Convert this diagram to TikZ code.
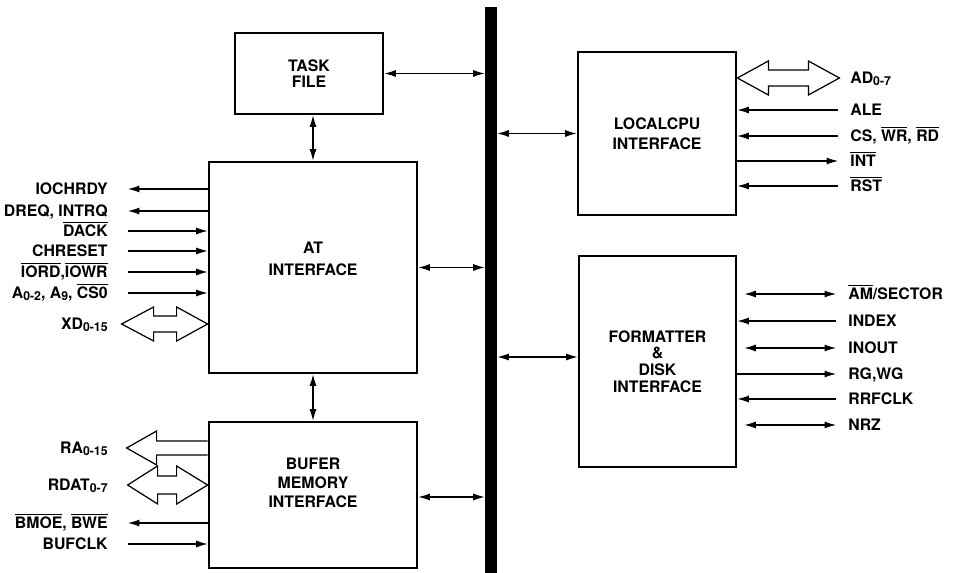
\documentclass[tikz,border=0pt]{standalone}
\usepackage{fontspec}
\setmainfont{TeX Gyre Heros}
\usetikzlibrary{arrows.meta, positioning, calc}
\newcommand{\ovl}[1]{$\overline{\mbox{#1}}$}
\newcommand{\lsub}[1]{\raisebox{-1pt}{\fontsize{7}{7}\selectfont #1}}

\begin{document}
\begin{tikzpicture}[
        x=0.02cm, y=-0.02cm,
        font=\fontsize{9}{9.5}\selectfont\bfseries,
        >={Latex[length=6.5pt,width=4pt]},
        block/.style={rectangle, draw=black, line width=1.6pt, fill=white, align=center, inner sep=0pt},
        bus/.style={rectangle, fill=black, inner sep=0pt, minimum width=0.24cm, minimum height=11.32cm},
        link/.style={<->, line width=0.6pt},
        wire/.style={line width=0.6pt},
        bi-wire/.style={<->, line width=0.6pt, shorten >=4pt},
        wide-arrow/.style={draw=black, fill=white, line width=0.7pt, line join=miter},
        sig-left/.style={anchor=east, inner xsep=0.3cm, inner ysep=0pt, text height=6.5pt, text depth=0pt},
        sig-right/.style={anchor=west, inner xsep=0.24cm, inner ysep=0pt, text height=6.5pt, text depth=0pt},
    ]
        \useasboundingbox (0,0) rectangle (953,573);

        % Blocks
        \node[block, minimum width=2.96cm, minimum height=1.62cm] (task) at (309, 73.5) {TASK\\FILE};
        \node[block, minimum width=4.16cm, minimum height=4.22cm] (at) at (313, 267.5) {AT\\[3pt]INTERFACE\\[0pt]};
        \node[block, minimum width=4.16cm, minimum height=2.92cm] (bufer) at (313, 495) {BUFER\\[1.3pt]MEMORY\\[1.3pt]INTERFACE\\[4pt]};
        \node[block, minimum width=3.16cm, minimum height=3.26cm] (cpu) at (657, 133.5) {LOCALCPU\\[2pt]INTERFACE};
        \node[block, minimum width=3.14cm, minimum height=4.22cm] (fmt) at (657.5, 361.5) {FORMATTER\\\&\\DISK\\INTERFACE};

        % Internal bus
        \node[bus] (bus) at (491, 290) {};

        % Block to bus connections
        \draw[link] (task.east) -- (task.east -| bus.west);
        \draw[link] (at.east) -- (at.east -| bus.west);
        \draw[link] ([yshift=-0.04cm]bufer.east) -- ([yshift=-0.04cm]bufer.east -| bus.west);
        \draw[link] (cpu.west) -- (cpu.west -| bus.east);
        \draw[link] ([yshift=0.09cm]fmt.west) -- ([yshift=0.09cm]fmt.west -| bus.east);
        \draw[link] (at.north) -- (at.north |- task.south);
        \draw[link] (at.south) -- (at.south |- bufer.north);

        % AT interface signals
        \foreach \y/\t [count=\i] in {189/IOCHRDY, 211/{DREQ, INTRQ}, 231/\ovl{DACK}, 251/CHRESET,
                272/{\ovl{IORD},\ovl{IOWR}}, 293/{A\lsub{0-2}, A\lsub{9}, \ovl{CS0}}, 324/XD\lsub{0-15}} {
            \node[sig-left] (atsig\i) at (123, \y) {\t};
        }
        \foreach \i in {1,2}
            \draw[wire, <-] ([xshift=0.1cm]atsig\i.east) -- (atsig\i.east -| at.west);
        \foreach \i in {3,...,6}
            \draw[wire, ->] ([xshift=0.1cm]atsig\i.east) -- (atsig\i.east -| at.west);
        \draw[wide-arrow] (at.west |- atsig7) -- ++(-31,-17) -- ++(0,9) -- ++(-23,0) -- ++(0,-9) -- ++(-32,17)
            -- ++(32,17) -- ++(0,-9) -- ++(23,0) -- ++(0,9) -- cycle;

        % Buffer memory signals
        \foreach \y/\t [count=\i] in {448/RA\lsub{0-15}, 485/RDAT\lsub{0-7}, 523/{\ovl{BMOE}, \ovl{BWE}}, 544/BUFCLK} {
            \node[sig-left] (bufsig\i) at (123, \y) {\t};
        }
        \draw[wide-arrow] (bufer.west |- bufsig1) ++(0,-7) -- ++(-51,0) -- ++(0,-10) -- ++(-30,17)
            -- ++(30,17) -- ++(0,-10) -- ++(51,0);
        \draw[wide-arrow] (bufer.west |- bufsig2) -- ++(-31,-19) -- ++(0,10) -- ++(-19,0) -- ++(0,-10) -- ++(-30,19)
            -- ++(30,19) -- ++(0,-10) -- ++(19,0) -- ++(0,10) -- cycle;
        \draw[wire, <-] ([xshift=0.1cm]bufsig3.east) -- (bufsig3.east -| bufer.west);
        \draw[wire, ->] ([xshift=0.1cm]bufsig4.east) -- (bufsig4.east -| bufer.west);

        % Local CPU signals
        \foreach \y/\t [count=\i] in {78/AD\lsub{0-7}, 110/ALE, 136/{CS, \ovl{WR}, \ovl{RD}}, 161/\ovl{INT}, 186/\ovl{RST}} {
            \node[sig-right] (cpusig\i) at (838, \y) {\t};
        }
        \draw[wide-arrow] (cpu.east |- cpusig1) -- ++(31,-17) -- ++(0,9) -- ++(40,0) -- ++(0,-9) -- ++(31,17)
            -- ++(-31,17) -- ++(0,-9) -- ++(-40,0) -- ++(0,9) -- cycle;
        \foreach \i in {2,3,5}
            \draw[wire, ->] (cpusig\i.west) -- (cpusig\i.west -| cpu.east);
        \draw[wire, <-] (cpusig4.west) -- (cpusig4.west -| cpu.east);

        % Formatter and disk signals
        \foreach \y/\t [count=\i] in {294/{\ovl{AM}/SECTOR}, 321/INDEX, 348/INOUT, 374/{RG,WG}, 399/RRFCLK, 425/NRZ} {
            \node[sig-right] (fdsig\i) at (836, \y) {\t};
        }
        \foreach \i in {1,3,6}
            \draw[bi-wire] (fdsig\i.west) -- (fdsig\i.west -| fmt.east);
        \foreach \i in {2,5}
            \draw[wire, ->] (fdsig\i.west) -- (fdsig\i.west -| fmt.east);
        \draw[wire, <-] (fdsig4.west) -- (fdsig4.west -| fmt.east);
    \end{tikzpicture}
\end{document}
